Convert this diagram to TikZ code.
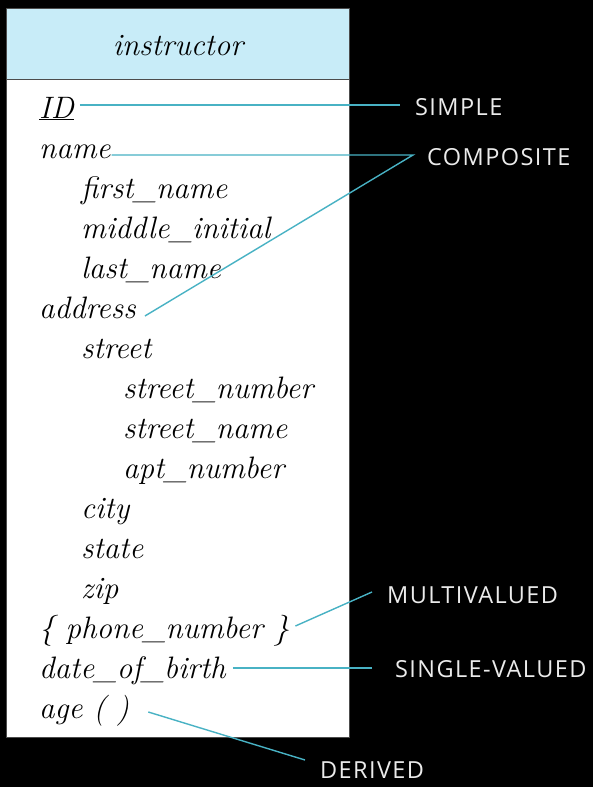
\documentclass[tikz,border=0pt]{standalone}
\usepackage{fontspec}
\newfontfamily\labelfont[LetterSpace=6]{Open Sans}
\usepackage{tikz}
\usetikzlibrary{positioning}
\definecolor{headblue}{RGB}{200,236,248}
\definecolor{linkteal}{RGB}{72,178,196}

\begin{document}
\begin{tikzpicture}[x=1pt, y=-1pt,
node distance=40pt, attr/.style = {font=\fontsize{31}{36}\selectfont\itshape, text height=22pt, text depth=8pt},
kind/.style={font=\fontsize{23.5}{28}\selectfont\labelfont, text=white!92!black, inner sep=0pt, anchor=west},
link/.style={draw=linkteal, line width=1.4pt}]
\tikzstyle{every node}=[inner sep=1pt]
\fill[black] (0,0) rectangle (593,787);
\useasboundingbox (0,0) rectangle (593,787);
\draw[fill=white, draw=black!70, line width=0.8pt] (6,8) rectangle (349,737);
\draw[fill=headblue, draw=black!70, line width=0.8pt] (6,8) rectangle (349,79);
\node[attr] (1) at (178,48) {instructor};
\node[attr, anchor=base west] (2) at (38,118) {\underline{ID}};
\node[attr] (3) [below=of 2.base west, anchor=base west] {name};
\node[attr] (4) [below=of 3.base west, anchor=base west, xshift=42pt] {first\_name};
\node[attr] (5) [below=of 4.base west, anchor=base west] {middle\_initial};
\node[attr] (6) [below=of 5.base west, anchor=base west] {last\_name};
\node[attr] (7) [below=of 6.base west, anchor=base west, xshift=-42pt] {address};
\node[attr] (8) [below=of 7.base west, anchor=base west, xshift=42pt] {street};
\node[attr] (9) [below=of 8.base west, anchor=base west, xshift=42pt] {street\_number};
\node[attr] (10) [below=of 9.base west, anchor=base west] {street\_name};
\node[attr] (11) [below=of 10.base west, anchor=base west] {apt\_number};
\node[attr] (12) [below=of 11.base west, anchor=base west, xshift=-42pt] {city};
\node[attr] (13) [below=of 12.base west, anchor=base west] {state};
\node[attr] (14) [below=of 13.base west, anchor=base west] {zip};
\node[attr] (15) [below=of 14.base west, anchor=base west, xshift=-42pt] {\{ phone\_number \}};
\node[attr] (16) [below=of 15.base west, anchor=base west] {date\_of\_birth};
\node[attr] (17) [below=of 16.base west, anchor=base west] {age ( )};
\node[kind] (18) at (415,107) {SIMPLE};
\node[kind] (19) at (427,157) {COMPOSITE};
\node[kind] (20) at (387,595) {MULTIVALUED};
\node[kind] (21) at (395,669) {SINGLE-VALUED};
\node[kind] (22) at (320,770) {DERIVED};

\draw[link] ([xshift=5pt,yshift=6pt]2.east) -- ([xshift=-15pt,yshift=2pt]18.west);
\draw[link] ([yshift=-4pt]3.east) -- ([xshift=-14pt,yshift=2pt]19.west) -- ([xshift=8pt,yshift=-5pt]7.east);
\draw[link] ([xshift=5pt,yshift=5pt]15.east) -- ([xshift=-15pt,yshift=3pt]20.west);
\draw[link] ([xshift=6pt,yshift=3pt]16.east) -- ([xshift=-23pt,yshift=1pt]21.west);
\draw[link] ([xshift=18pt,yshift=-1pt]17.east) -- ([xshift=-15pt,yshift=10pt]22.west);
\end{tikzpicture}
\end{document}
